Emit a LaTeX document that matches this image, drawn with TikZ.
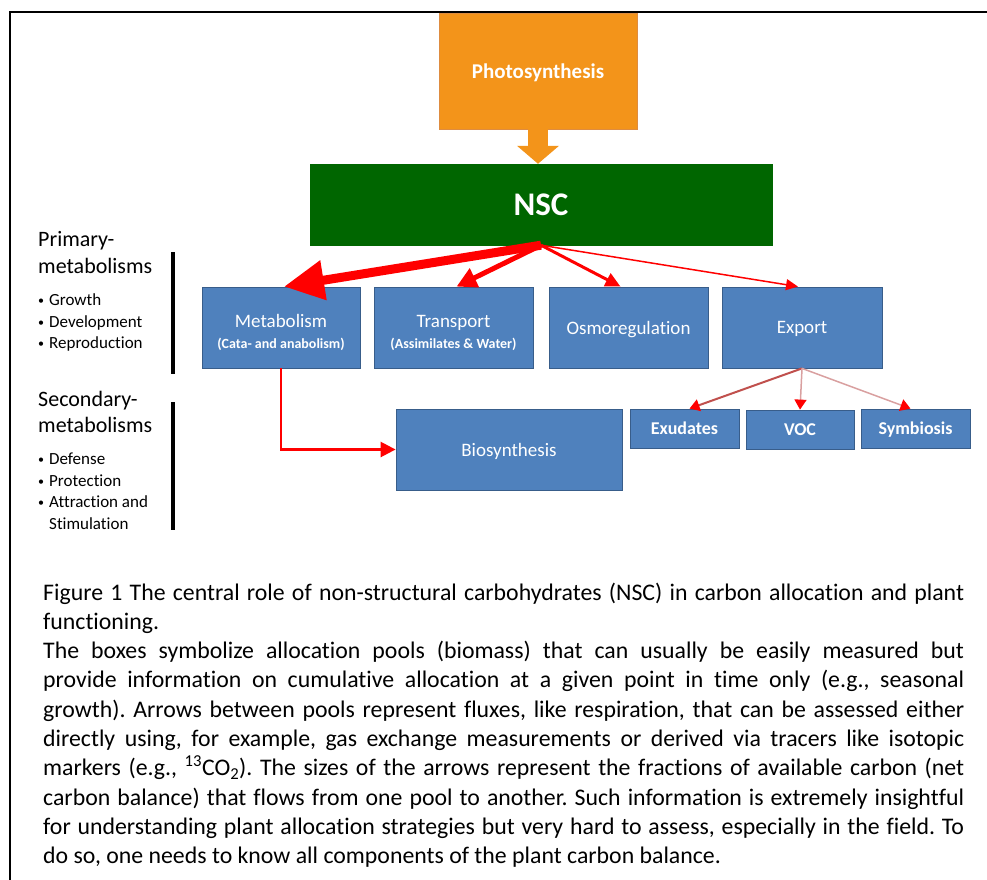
\documentclass[tikz,border=0pt]{standalone}
\usepackage{fontspec}
\setmainfont{Carlito}[Ligatures={TeX,NoCommon}]
\usetikzlibrary{arrows.meta}

\definecolor{poolblue}{RGB}{79,129,189}
\definecolor{poolline}{RGB}{56,93,138}
\definecolor{photoorange}{RGB}{243,148,26}
\definecolor{photoline}{RGB}{222,140,64}
\definecolor{nscgreen}{RGB}{0,102,0}
\definecolor{fluxred}{RGB}{255,0,0}
\definecolor{exportred}{RGB}{192,80,77}
\definecolor{exportpink}{RGB}{217,160,160}

\tikzset{
	pool/.style={rectangle, draw=poolline, fill=poolblue, text=white, inner sep=0pt, text depth=0pt, line width=0.8pt, align=center, font=\fontsize{19}{23}\selectfont},
	smallpool/.style={pool, minimum width=109pt, minimum height=39pt, font=\bfseries\fontsize{18}{22}\selectfont},
	flux/.style={draw=fluxred},
	heading/.style={anchor=base west, inner sep=0pt, font=\fontsize{22}{27}\selectfont},
	listitem/.style={anchor=base west, inner sep=0pt, font=\fontsize{17}{21}\selectfont},
}

\newcommand{\bul}{\makebox[11pt][l]{\raisebox{0.5pt}{\fontsize{12}{12}\selectfont\textbullet}}}

\begin{document}
\begin{tikzpicture}[x=1pt, y=-1pt]
	\useasboundingbox (0,0) rectangle (987,880);
	% frame round the figure
	\draw[line width=2pt] (987,12) -- (10,12) -- (10,880);

	% Define the nodes with specific positions
	\node[rectangle, draw=photoline, fill=photoorange, text=white, text depth=0pt, minimum width=198pt, minimum height=116pt, font=\bfseries\fontsize{21}{25}\selectfont] (photo) at (538,71) {Photosynthesis};
	\node[rectangle, draw=nscgreen, fill=nscgreen, text=white, text depth=0pt, minimum width=462pt, minimum height=81pt, font=\bfseries\fontsize{33}{40}\selectfont] (nsc) at (541,204.5) {NSC};

	\node[pool, minimum width=158pt, minimum height=81pt] (metab) at (281,327.5) {\rule{0pt}{20pt}Metabolism\\[-2pt]{\bfseries\fontsize{14}{17}\selectfont (Cata- and anabolism)}};
	\node[pool, minimum width=159pt, minimum height=81pt] (transport) at (453.5,327.5) {\rule{0pt}{20pt}Transport\\[-2pt]{\bfseries\fontsize{14}{17}\selectfont (Assimilates \& Water)}};
	\node[pool, minimum width=159pt, minimum height=81pt] (osmo) at (628.5,327.5) {Osmoregulation};
	\node[pool, minimum width=160pt, minimum height=81pt] (export) at (802,327.5) {Export};
	\node[pool, minimum width=226pt, minimum height=81pt] (bio) at (509,449.5) {Biosynthesis};

	\node[smallpool] (exudates) at (684.5,428.5) {Exudates};
	\node[smallpool, minimum width=108pt] (voc) at (800,429.5) {VOC};
	\node[smallpool] (symb) at (915.5,428.5) {Symbiosis};

	% Draw the fluxes between the pools
	\draw[photoorange, line width=20pt, -{Triangle[length=18pt, width=41pt]}] (photo.south) -- (photo.south |- nsc.north);
	\draw[flux, line width=9pt, -{Triangle[length=40pt, width=38pt]}] (nsc.south) -- ([xshift=3pt]metab.north);
	\draw[flux, line width=5pt, -{Triangle[length=20pt, width=20pt]}] (nsc.south) -- ([xshift=3pt]transport.north);
	\draw[flux, line width=3pt, -{Triangle[length=15pt, width=14pt]}] (nsc.south) -- ([xshift=-8pt]osmo.north);
	\draw[flux, line width=1.5pt, -{Triangle[length=12pt, width=11pt]}] (nsc.south) -- ([xshift=-4pt]export.north);
	\draw[flux, line width=2.5pt, -{Triangle[length=15pt, width=15pt]}] (metab.south) |- (bio.west);

	\draw[exportred, line width=2pt, -{Triangle[length=10pt, width=12pt, color=fluxred]}] (export.south) -- ([xshift=5pt]exudates.north);
	\draw[exportpink, line width=1.5pt, -{Triangle[length=10pt, width=12pt, color=fluxred]}] (export.south) -- (voc.north);
	\draw[exportpink, line width=1.5pt, -{Triangle[length=10pt, width=12pt, color=fluxred]}] (export.south) -- ([xshift=-5pt]symb.north);

	% labels on the left
	\node[heading] (prim) at (38,246) {Primary-};
	\node[heading] (primb) at (38,273) {metabolisms};
	\foreach \lbl/\yy [count=\i] in {Growth/305, Development/327, Reproduction/348}
		\node[listitem] (prim-\i) at (38,\yy) {\bul\lbl};
	\draw[line width=4pt] (173,252) -- (173,374);

	\node[heading] (sec) at (38,406) {Secondary-};
	\node[heading] (secb) at (38,432) {metabolisms};
	\foreach \lbl/\yy [count=\i] in {Defense/464, Protection/486, Attraction and/507}
		\node[listitem] (sec-\i) at (38,\yy) {\bul\lbl};
	\node[listitem] (sec-4) at (38,529) {\hspace*{11pt}Stimulation};
	\draw[line width=4pt] (173,402) -- (173,530);

	% caption
	\node[anchor=base west, inner sep=0pt, text width=921pt, align=justify, font=\fontsize{23.8}{29.33}\selectfont] (caption) at (43,600) {\frenchspacing\hyphenpenalty=10000\tolerance=10000\parindent=0pt
		Figure 1 The central role of non-structural carbohydrates (NSC) in carbon allocation and plant\linebreak
		functioning.\par
		The boxes symbolize allocation pools (biomass) that can usually be easily measured but\linebreak
		provide information on cumulative allocation at a given point in time only (e.g., seasonal\linebreak
		growth). Arrows between pools represent fluxes, like respiration, that can be assessed either\linebreak
		directly using, for example, gas exchange measurements or derived via tracers like isotopic\linebreak
		markers (e.g., \textsuperscript{13}CO\textsubscript{2}). The sizes of the arrows represent the fractions of available carbon (net\linebreak
		carbon balance) that flows from one pool to another. Such information is extremely insightful\linebreak
		for understanding plant allocation strategies but very hard to assess, especially in the field. To\linebreak
		do so, one needs to know all components of the plant carbon balance.};
\end{tikzpicture}
\end{document}
